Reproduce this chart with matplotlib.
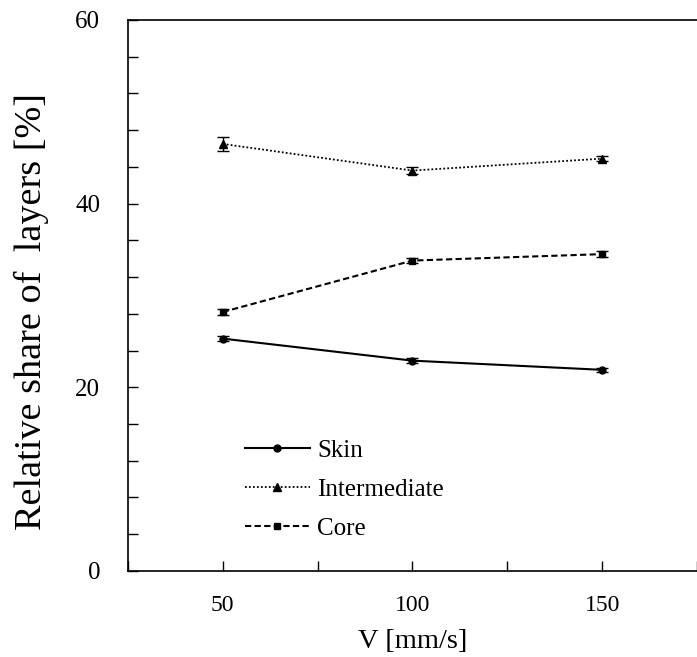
import matplotlib
matplotlib.use("Agg")
import matplotlib.pyplot as plt
from matplotlib.ticker import MultipleLocator

speed = [50, 100, 150]
skin = [25.3, 22.9, 21.9]
skin_err = [0.3, 0.25, 0.25]
inter = [46.5, 43.6, 44.9]
inter_err = [0.8, 0.35, 0.3]
core = [28.2, 33.8, 34.5]
core_err = [0.3, 0.25, 0.3]

plt.rcParams['font.family'] = ['Liberation Serif', 'DejaVu Serif']

fig = plt.figure(figsize=(6.97, 6.57), dpi=100)
ax = fig.add_axes([0.1836, 0.131, 0.8164, 0.8386])

c1 = ax.errorbar(speed, skin, yerr=skin_err, color='black', lw=1.5, ls='-', marker='o',
                 ms=5, capsize=4, elinewidth=1, capthick=1, label='Skin')
c2 = ax.errorbar(speed, inter, yerr=inter_err, color='black', lw=1.3, ls=(0, (1, 1.2)), marker='^',
                 ms=6, capsize=4, elinewidth=1, capthick=1, label='Intermediate')
c3 = ax.errorbar(speed, core, yerr=core_err, color='black', lw=1.5, ls=(0, (3, 1.6)), marker='s',
                 ms=5, capsize=4, elinewidth=1, capthick=1, label='Core')

ax.set_xlim(25, 175)
ax.set_ylim(0, 60)
ax.xaxis.set_major_locator(MultipleLocator(50))
ax.xaxis.set_minor_locator(MultipleLocator(25))
ax.yaxis.set_major_locator(MultipleLocator(20))
ax.yaxis.set_minor_locator(MultipleLocator(4))
ax.tick_params(which='both', direction='in', color='black', length=7, width=1)
ax.tick_params(axis='x', which='both', pad=17.5, labelsize=17)
ax.tick_params(axis='y', which='both', pad=20, labelsize=18)
ax.spines['right'].set_visible(False)
for s in ['left', 'bottom', 'top']:
    ax.spines[s].set_linewidth(1.2)

ax.set_xlabel('V [mm/s]', fontsize=20.5, labelpad=9.5)
ax.set_ylabel('Relative share of  layers [%]', fontsize=27.5)
ax.yaxis.set_label_coords(-0.138, 0.47)

handles = [c1[0], c2[0], c3[0]]
labels = ['Skin', 'Intermediate', 'Core']
leg = ax.legend(handles, labels, loc='upper left', bbox_to_anchor=(0.166, 0.28), frameon=False,
                fontsize=18, handlelength=2.6, labelspacing=0.66, handletextpad=0.3)

fig.savefig('out.png', dpi=100)
